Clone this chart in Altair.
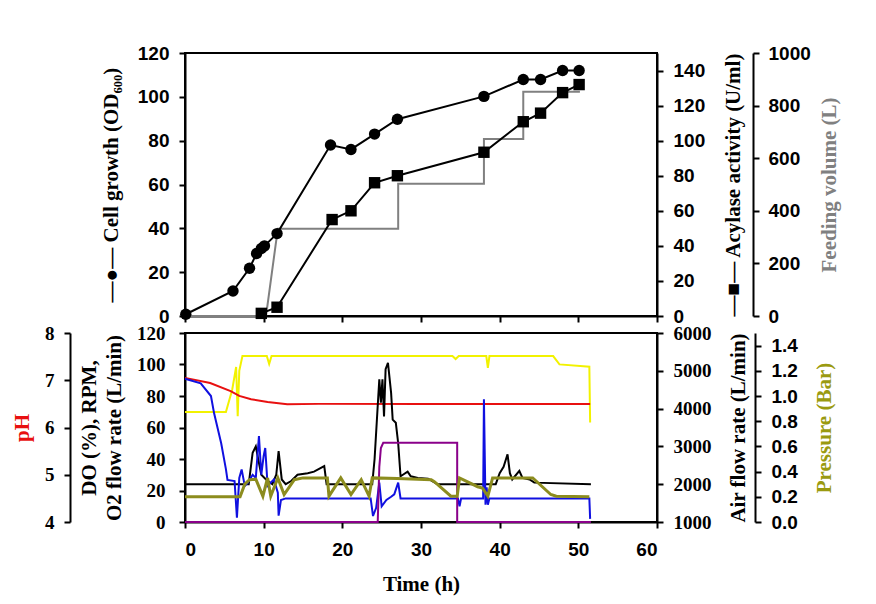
import altair as alt
import pandas as pd

# ---------------- top panel data ----------------
growth_t = [0.1, 6.1, 8.2, 9.1, 9.7, 10.1, 11.7, 18.5, 21.1, 24.1, 27.0, 38.0, 43.0, 45.2, 48.0, 50.1]
growth_od = [0.8, 11.4, 21.8, 28.5, 30.8, 32.0, 37.6, 78.0, 76.0, 83.0, 89.8, 100.2, 107.9, 107.9, 112.0, 112.0]

acyl_t = [9.7, 11.7, 18.7, 21.1, 24.1, 27.0, 38.0, 43.0, 45.2, 48.0, 50.1]
acyl_u = [1.5, 5.0, 55.0, 60.0, 76.0, 80.0, 93.4, 110.8, 115.7, 127.4, 132.0]

feed_t = [0, 10.3, 11.8, 27.1, 27.1, 38.0, 38.0, 43.0, 43.0, 50.2]
feed_v = [0, 0, 332, 332, 503, 503, 673, 673, 853, 853]

# ---------------- bottom panel data ----------------
ph_t = [0, 3.2, 5.8, 6.9, 8.4, 10.5, 13.0, 17.0, 30.0, 51.5]
ph_v = [7.05, 6.94, 6.77, 6.67, 6.60, 6.54, 6.49, 6.50, 6.50, 6.50]

air_t = [0, 5.2, 6.0, 6.5, 6.7, 6.9, 7.3, 10.4, 10.7, 11.0, 34.0, 34.4, 34.8, 38.3, 38.5, 38.7, 46.8, 47.6, 51.4, 51.5]
air_v = [3910, 3910, 4500, 5100, 3800, 5000, 5390, 5390, 5180, 5390, 5390, 5310, 5390, 5390, 5080, 5390, 5390, 5170, 5110, 3630]

do_t = [0, 2.0, 3.3, 3.7, 4.6, 5.2, 5.4, 6.3, 6.6, 6.9, 7.2, 7.6, 8.0, 8.6, 9.0, 9.4, 9.7, 10.0, 10.2, 10.5,
        10.9, 11.3, 11.8, 11.9, 12.2, 12.8, 23.6, 23.9, 24.3, 24.7, 25.0, 25.6, 26.2, 26.6, 27.1, 27.4,
        34.7, 34.9, 35.1, 37.9, 38.0, 38.2, 38.35, 38.5, 38.7, 51.4, 51.5]
do_v = [91, 88, 80, 69, 50, 33.6, 26.7, 26, 2.7, 28, 33.4, 22.9, 25, 30, 28, 54.6, 30, 42, 47, 22.9,
        25, 27, 18.6, 4, 14, 15, 15, 3.8, 9, 25, 10, 14, 16, 17.6, 25, 15,
        15, 10, 15, 15, 78, 11, 22, 11, 15, 15, 2]

rpm_t = [0, 8.1, 8.6, 9.0, 9.3, 9.7, 10.3, 11.1, 11.6, 11.9, 12.3, 12.8, 13.5, 14.3, 15.6, 16.4, 17.7, 18.0,
         23.8, 24.1, 24.5, 24.7, 24.9, 25.1, 25.3, 25.5, 25.8, 26.2, 26.4, 26.8, 27.1, 27.4, 27.7, 28.3,
         28.7, 29.6, 30.9, 32.1, 39.5, 40.0, 40.5, 41.0, 41.3, 41.6, 42.5, 42.9, 43.8, 44.4, 51.6]
rpm_v = [24, 24, 44, 48, 40, 30, 27, 24, 30, 45, 27, 24, 26, 30, 31, 32, 35.5, 24,
         24, 40, 74, 90.6, 75.8, 90.6, 67, 97, 101, 82, 65, 63, 50, 29, 30, 32,
         29, 28, 27.5, 24, 24, 31, 35, 43, 31, 27, 32.4, 28, 27, 25, 24]

o2_t = [0, 24.5, 24.7, 24.9, 25.2, 34.6, 34.6, 51.6]
o2_v = [0, 0, 35, 47, 50.3, 50.3, 0, 0]

pr_t = [0, 7.0, 7.6, 8.2, 9.0, 9.9, 10.5, 10.9, 11.8, 12.6, 13.9, 15.0, 18.1, 18.3, 19.8, 21.1, 22.4, 23.4,
        23.8, 27.0, 31.3, 31.7, 33.8, 34.6, 34.9, 37.2, 37.8, 38.5, 39.1, 44.2, 46.5, 47.2, 51.4]
pr_v = [0.2, 0.2, 0.3, 0.336, 0.34, 0.205, 0.35, 0.205, 0.35, 0.218, 0.336, 0.35, 0.35, 0.205, 0.35, 0.218, 0.336, 0.205,
        0.35, 0.345, 0.336, 0.32, 0.205, 0.205, 0.35, 0.28, 0.27, 0.205, 0.35, 0.35, 0.218, 0.205, 0.2]


def frame(ts, vs, **extra):
    d = pd.DataFrame({"t": ts, "v": vs, "i": range(len(ts))})
    for k, val in extra.items():
        d[k] = val
    return d


SERIF = "Liberation Serif"
SANS = "Liberation Sans"
TS = 21  # title size
LS = 18  # label size

x_top = alt.X("t:Q", scale=alt.Scale(domain=[0, 60]),
              axis=alt.Axis(values=[0, 10, 20, 30, 40, 50, 60], labels=False, title=None))
x_bot = alt.X("t:Q", scale=alt.Scale(domain=[0, 60]),
              axis=alt.Axis(values=[0, 10, 20, 30, 40, 50, 60], title="Time (h)",
                            labelFont=SANS, labelFontSize=19, labelFontWeight="bold", labelPadding=12,
                            titleFont=SERIF, titleFontSize=TS, titleFontWeight="bold", titlePadding=14))

# ---------------- top panel ----------------
growth = alt.Chart(frame(growth_t, growth_od)).mark_line(
    color="black", strokeWidth=2,
    point=alt.OverlayMarkDef(filled=True, size=130, color="black", shape="circle")
).encode(
    x=x_top,
    y=alt.Y("v:Q", scale=alt.Scale(domain=[0, 120]),
            axis=alt.Axis(orient="left", values=list(range(0, 121, 20)), format="d",
                          title="—●—  Cell growth (OD₆₀₀)",
                          labelFont=SANS, labelFontSize=LS + 1, labelFontWeight="bold", labelPadding=10,
                          titleFont=SERIF, titleFontSize=TS, titleFontWeight="bold", titlePadding=16)),
    order="i:Q",
)

acyl = alt.Chart(frame(acyl_t, acyl_u)).mark_line(
    color="black", strokeWidth=2,
    point=alt.OverlayMarkDef(filled=True, size=130, color="black", shape="square")
).encode(
    x=x_top,
    y=alt.Y("v:Q", scale=alt.Scale(domain=[0, 150]),
            axis=alt.Axis(orient="right", values=list(range(0, 141, 20)), format="d",
                          title="—■—  Acylase activity (U/ml)", titleAngle=270, titleBaseline="top",
                          labelFont=SANS, labelFontSize=LS + 1, labelFontWeight="bold", labelPadding=10,
                          titleFont=SERIF, titleFontSize=TS, titleFontWeight="bold", titlePadding=18)),
    order="i:Q",
)

feed = alt.Chart(frame(feed_t, feed_v)).mark_line(color="#808080", strokeWidth=2).encode(
    x=x_top,
    y=alt.Y("v:Q", scale=alt.Scale(domain=[0, 1000]),
            axis=alt.Axis(orient="right", offset=96, values=list(range(0, 1001, 200)), format="d",
                          title="Feeding volume (L)", titleAngle=270, titleBaseline="top",
                          titleColor="#808080",
                          labelFont=SANS, labelFontSize=LS + 1, labelFontWeight="bold", labelPadding=9,
                          titleFont=SERIF, titleFontSize=TS, titleFontWeight="bold", titlePadding=8)),
    order="i:Q",
)

top = alt.layer(feed, acyl, growth).resolve_scale(y="independent").properties(width=472, height=263)

# ---------------- bottom panel ----------------
do_df = pd.concat([
    frame(rpm_t, rpm_v, s="RPM"),
    frame(do_t, do_v, s="DO"),
    frame(o2_t, o2_v, s="O2"),
])

do_layer = alt.Chart(do_df).mark_line(strokeWidth=2).encode(
    x=x_bot,
    y=alt.Y("v:Q", scale=alt.Scale(domain=[0, 120]),
            axis=alt.Axis(orient="left", values=list(range(0, 121, 20)), format="d",
                          title=["DO (%), RPM,", "O2 flow rate (L/min)"], titleLineHeight=25,
                          labelFont=SERIF, labelFontSize=LS + 1, labelFontWeight="bold", labelPadding=14,
                          titleFont=SERIF, titleFontSize=TS, titleFontWeight="bold", titlePadding=12)),
    color=alt.Color("s:N", scale=alt.Scale(domain=["RPM", "DO", "O2"],
                                           range=["#000000", "#1010e0", "#8a008a"]), legend=None),
    detail="s:N",
    order="i:Q",
)

ph_layer = alt.Chart(frame(ph_t, ph_v)).mark_line(color="#e81010", strokeWidth=2).encode(
    x=x_bot,
    y=alt.Y("v:Q", scale=alt.Scale(domain=[4, 8]),
            axis=alt.Axis(orient="left", offset=115, values=[4, 5, 6, 7, 8], format="d", title="pH",
                          titleColor="#e81010",
                          labelFont=SERIF, labelFontSize=LS + 1, labelFontWeight="bold", labelPadding=10,
                          titleFont=SERIF, titleFontSize=TS, titleFontWeight="bold", titlePadding=12)),
    order="i:Q",
)

air_layer = alt.Chart(frame(air_t, air_v)).mark_line(color="#f2f200", strokeWidth=2).encode(
    x=x_bot,
    y=alt.Y("v:Q", scale=alt.Scale(domain=[1000, 6000]),
            axis=alt.Axis(orient="right", values=list(range(1000, 6001, 1000)), format="d",
                          title="Air flow rate (L/min)", titleAngle=270, titleBaseline="top",
                          labelFont=SERIF, labelFontSize=LS + 1, labelFontWeight="bold", labelPadding=10,
                          titleFont=SERIF, titleFontSize=TS, titleFontWeight="bold", titlePadding=16)),
    order="i:Q",
)

pr_layer = alt.Chart(frame(pr_t, pr_v)).mark_line(color="#8c8c1e", strokeWidth=3).encode(
    x=x_bot,
    y=alt.Y("v:Q", scale=alt.Scale(domain=[0, 1.5]),
            axis=alt.Axis(orient="right", offset=98, values=[0, 0.2, 0.4, 0.6, 0.8, 1.0, 1.2, 1.4],
                          format=".1f", title="Pressure (Bar)", titleAngle=270, titleBaseline="top",
                          titleColor="#9a9a10",
                          labelFont=SANS, labelFontSize=LS + 1, labelFontWeight="bold", labelPadding=10,
                          titleFont=SERIF, titleFontSize=TS, titleFontWeight="bold", titlePadding=16)),
    order="i:Q",
)

bottom = alt.layer(air_layer, ph_layer, do_layer, pr_layer).resolve_scale(
    y="independent").properties(width=472, height=189)

chart = alt.vconcat(top, bottom, spacing=17, bounds="flush").properties(
    padding={"left": 2, "top": 35, "right": 5, "bottom": 5},
    background="white",
).configure_view(
    stroke="black", strokeWidth=2
).configure_axis(
    domainColor="black", domainWidth=2, tickColor="black", tickWidth=2, tickSize=6,
    grid=False, labelColor="black", titleColor="black"
)

chart.save("out.html", embed_options={"renderer": "svg", "actions": False})
